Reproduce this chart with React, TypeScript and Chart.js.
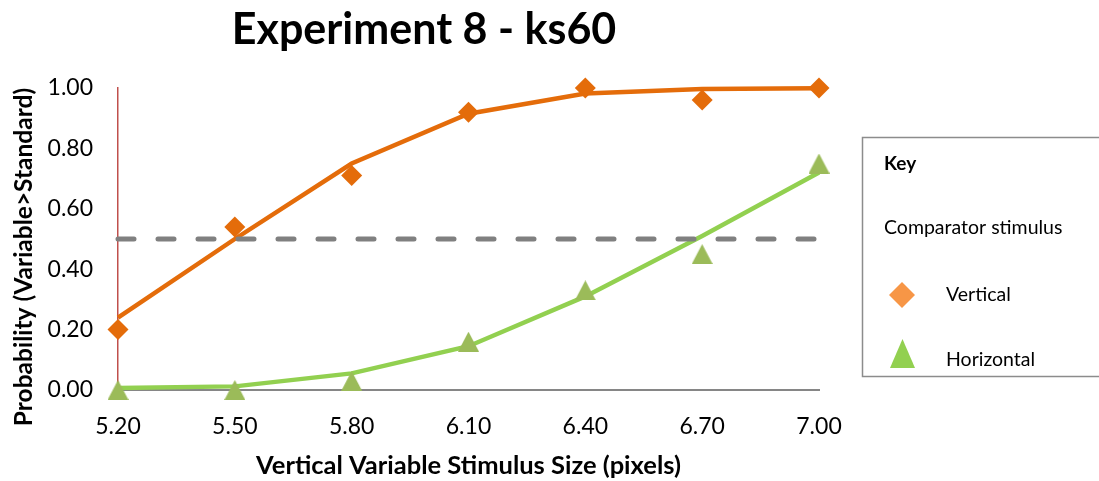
import React, { useEffect, useRef } from "react";
import { Chart, registerables } from "chart.js";

Chart.register(...registerables);

const chartTitle = "Experiment 8 - ks60";
const xAxisTitle = "Vertical Variable Stimulus Size (pixels)";
const yAxisTitle = "Probability (Variable>Standard)";
const legendHeading = "Key";
const legendSubheading = "Comparator stimulus";

const stimulusSizes = [5.2, 5.5, 5.8, 6.1, 6.4, 6.7, 7.0];
const yTickValues = [0, 0.2, 0.4, 0.6, 0.8, 1.0];

const verticalObserved = [0.2, 0.54, 0.71, 0.92, 1.0, 0.96, 1.0];
const verticalFit = [0.24, 0.5, 0.75, 0.915, 0.982, 0.997, 0.999];
const horizontalObserved = [0.0, 0.0, 0.03, 0.16, 0.33, 0.45, 0.75];
const horizontalFit = [0.007, 0.012, 0.055, 0.145, 0.31, 0.51, 0.72];
const thresholdX = [5.2, 7.0];
const thresholdY = [0.5, 0.5];

const seriesNames = ["Vertical", "Horizontal"];

const FONT = "Lato, 'Open Sans', sans-serif";

function makeTriangle(color: string, w: number, h: number) {
  const c = document.createElement("canvas");
  c.width = w;
  c.height = h;
  const ctx = c.getContext("2d")!;
  ctx.fillStyle = color;
  ctx.beginPath();
  ctx.moveTo(w / 2, 0);
  ctx.lineTo(w, h);
  ctx.lineTo(0, h);
  ctx.closePath();
  ctx.fill();
  return c;
}

export default function App() {
  const ref = useRef<HTMLCanvasElement | null>(null);

  useEffect(() => {
    if (!ref.current) return;
    const tri = makeTriangle("#9BBB59", 21, 20);

    const overlay = {
      id: "overlay",
      afterDraw(chart: any) {
        const ctx = chart.ctx as CanvasRenderingContext2D;
        ctx.save();
        // Title
        ctx.fillStyle = "#000";
        ctx.font = `bold 43px ${FONT}`;
        ctx.textAlign = "center";
        ctx.textBaseline = "middle";
        ctx.fillText(chartTitle, 424, 30);

        // Y axis title (rotated)
        ctx.save();
        ctx.translate(24, 257);
        ctx.rotate(-Math.PI / 2);
        ctx.font = `bold 24.5px ${FONT}`;
        ctx.fillText(yAxisTitle, 0, 0);
        ctx.restore();

        // Legend box
        ctx.strokeStyle = "#8C8C8C";
        ctx.lineWidth = 1.5;
        ctx.strokeRect(862.5, 137.5, 300, 239);

        ctx.textAlign = "left";
        ctx.fillStyle = "#000";
        ctx.font = `bold 19px ${FONT}`;
        ctx.fillText(legendHeading, 884, 164);
        ctx.font = `19.5px ${FONT}`;
        ctx.fillText(legendSubheading, 884, 228);
        ctx.fillText(seriesNames[0], 946, 295);
        ctx.fillText(seriesNames[1], 946, 360);

        // Legend diamond
        ctx.fillStyle = "#F79646";
        ctx.beginPath();
        ctx.moveTo(902, 282);
        ctx.lineTo(915, 295);
        ctx.lineTo(902, 308);
        ctx.lineTo(889, 295);
        ctx.closePath();
        ctx.fill();
        // Legend triangle
        ctx.fillStyle = "#92D050";
        ctx.beginPath();
        ctx.moveTo(902.5, 339);
        ctx.lineTo(915, 368);
        ctx.lineTo(890, 368);
        ctx.closePath();
        ctx.fill();
        ctx.restore();
      },
    };

    const toPts = (xs: number[], ys: number[]) => xs.map((x, i) => ({ x, y: ys[i] }));

    const chart = new Chart(ref.current, {
      type: "scatter",
      data: {
        datasets: [
          {
            label: seriesNames[0],
            data: toPts(stimulusSizes, verticalObserved),
            showLine: false,
            pointStyle: "rectRot",
            pointRadius: 10.5,
            backgroundColor: "#E46C0A",
            borderColor: "#E46C0A",
            borderWidth: 0,
            clip: false,
            order: 1,
          },
          {
            label: seriesNames[1],
            data: toPts(stimulusSizes, horizontalObserved),
            showLine: false,
            pointStyle: tri as any,
            pointRadius: 10,
            backgroundColor: "#9BBB59",
            clip: false,
            order: 2,
          },
          {
            label: "threshold",
            data: toPts(thresholdX, thresholdY),
            showLine: true,
            pointRadius: 0,
            borderColor: "#808080",
            borderWidth: 5,
            borderDash: [16, 24],
            borderCapStyle: "round",
            clip: false,
            order: 3,
          },
          {
            label: "Vertical fit",
            data: toPts(stimulusSizes, verticalFit),
            showLine: true,
            pointRadius: 0,
            borderColor: "#E46C0A",
            borderWidth: 4.5,
            tension: 0,
            clip: false,
            order: 4,
          },
          {
            label: "Horizontal fit",
            data: toPts(stimulusSizes, horizontalFit),
            showLine: true,
            pointRadius: 0,
            borderColor: "#92D050",
            borderWidth: 4.5,
            tension: 0,
            clip: false,
            order: 5,
          },
        ],
      },
      options: {
        animation: false,
        responsive: true,
        maintainAspectRatio: false,
        layout: { padding: { top: 88, right: 280, bottom: 0, left: 0 } },
        plugins: {
          legend: { display: false },
          title: { display: false },
          tooltip: { enabled: false },
        },
        elements: { point: { hoverRadius: 10 } },
        scales: {
          x: {
            type: "linear",
            min: 5.2,
            max: 7.0,
            afterBuildTicks: (s: any) => {
              s.ticks = stimulusSizes.map((v) => ({ value: v }));
            },
            afterFit: (s: any) => {
              s.height = 91;
            },
            grid: { display: false, drawTicks: false },
            border: { display: true, color: "#868686", width: 2 },
            ticks: {
              color: "#000",
              font: { family: FONT, size: 23 },
              padding: 23,
              maxRotation: 0,
              callback: (v: any) => Number(v).toFixed(2),
            },
            title: {
              display: true,
              text: xAxisTitle,
              color: "#000",
              font: { family: FONT, size: 25.5, weight: "bold" },
              padding: { top: 0, bottom: 0 },
            },
          },
          y: {
            type: "linear",
            min: 0,
            max: 1,
            afterBuildTicks: (s: any) => {
              s.ticks = yTickValues.map((v) => ({ value: v }));
            },
            afterFit: (s: any) => {
              s.width = 118;
            },
            grid: { display: false, drawTicks: false },
            border: { display: true, color: "#C0504D", width: 1.5 },
            ticks: {
              color: "#000",
              font: { family: FONT, size: 23 },
              padding: 25,
              callback: (v: any) => Number(v).toFixed(2),
            },
            title: { display: false },
          },
        },
      },
      plugins: [overlay],
    } as any);

    return () => chart.destroy();
  }, []);

  return (
    <div style={{ position: "absolute", left: 0, top: 0, width: 1099, height: 481, background: "#fff" }}>
      <canvas ref={ref} />
    </div>
  );
}
